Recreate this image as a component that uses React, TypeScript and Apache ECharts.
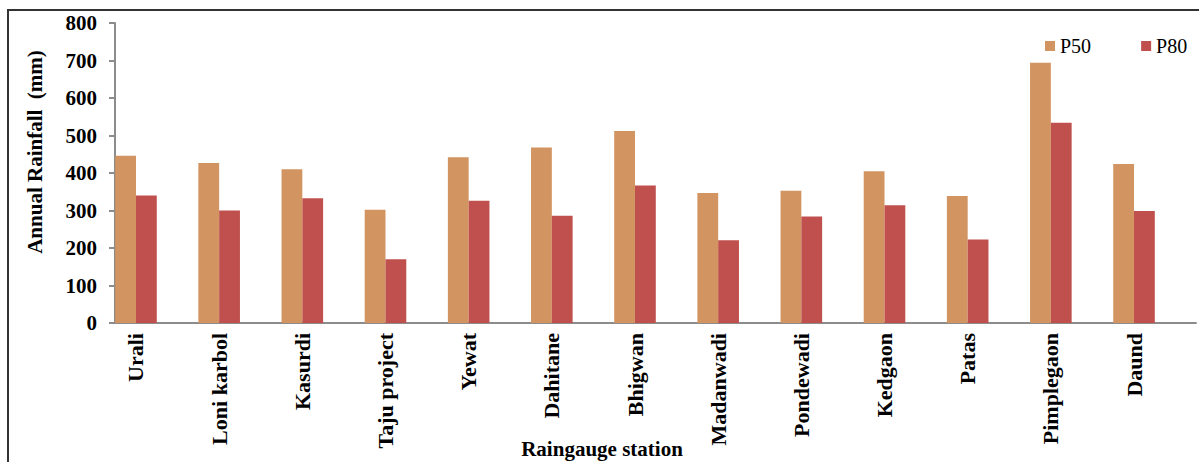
import React, { useEffect, useRef } from "react";
import * as echarts from "echarts";

// Raingauge stations and their dependable annual rainfall (mm)
const stations: string[] = [
  "Urali",
  "Loni karbol",
  "Kasurdi",
  "Taju project",
  "Yewat",
  "Dahitane",
  "Bhigwan",
  "Madanwadi",
  "Pondewadi",
  "Kedgaon",
  "Patas",
  "Pimplegaon",
  "Daund",
];

const p50: number[] = [446, 427, 410, 302, 442, 468, 512, 347, 353, 405, 339, 694, 424];
const p80: number[] = [340, 300, 333, 170, 326, 286, 367, 221, 284, 314, 223, 534, 299];

const yTicks: number[] = [0, 100, 200, 300, 400, 500, 600, 700, 800];

const SERIF = "Liberation Serif";
const AXIS_GRAY = "#8c8c8c";

export default function App() {
  const ref = useRef<HTMLDivElement>(null);

  useEffect(() => {
    document.body.style.margin = "0";
    if (!ref.current) return;
    const chart = echarts.init(ref.current, undefined, { renderer: "svg" });

    const yMin = yTicks[0];
    const yMax = yTicks[yTicks.length - 1];
    const yStep = yTicks[1] - yTicks[0];

    chart.setOption({
      animation: false,
      backgroundColor: "#ffffff",
      textStyle: { fontFamily: SERIF },
      grid: [
        // bars and station labels
        { left: 94.4, width: 1081.2, top: 23, height: 300, containLabel: false },
        // visible value axis and baseline
        { left: 115, width: 1081, top: 23, height: 300, containLabel: false },
      ],
      legend: {
        data: ["P50", "P80"],
        left: 1040,
        top: 31,
        icon: "rect",
        itemWidth: 10,
        itemHeight: 10,
        itemGap: 50,
        textStyle: { fontFamily: SERIF, fontSize: 20, color: "#000" },
      },
      xAxis: [
        {
          type: "category",
          gridIndex: 0,
          data: stations,
          boundaryGap: true,
          axisLine: { show: false },
          axisTick: { show: false },
          axisLabel: {
            rotate: 90,
            margin: 10,
            interval: 0,
            fontFamily: SERIF,
            fontWeight: "bold",
            fontSize: 22,
            color: "#000",
          },
        },
        {
          type: "value",
          gridIndex: 1,
          min: 0,
          max: 1,
          axisLine: { show: true, lineStyle: { color: AXIS_GRAY, width: 2 } },
          axisTick: { show: false },
          axisLabel: { show: false },
          splitLine: { show: false },
        },
      ],
      yAxis: [
        {
          type: "value",
          gridIndex: 0,
          min: yMin,
          max: yMax,
          show: false,
        },
        {
          type: "value",
          gridIndex: 1,
          min: yMin,
          max: yMax,
          interval: yStep,
          axisLine: { show: true, lineStyle: { color: AXIS_GRAY, width: 2 } },
          axisTick: { show: true, length: 6, lineStyle: { color: AXIS_GRAY, width: 2 } },
          axisLabel: {
            margin: 18,
            fontFamily: SERIF,
            fontWeight: "bold",
            fontSize: 21,
            color: "#000",
          },
          splitLine: { show: false },
        },
      ],
      series: [
        {
          name: "P50",
          type: "bar",
          xAxisIndex: 0,
          yAxisIndex: 0,
          data: p50,
          barGap: "0%",
          barCategoryGap: "50%",
          itemStyle: { color: "#d29461" },
        },
        {
          name: "P80",
          type: "bar",
          xAxisIndex: 0,
          yAxisIndex: 0,
          data: p80,
          barGap: "0%",
          barCategoryGap: "50%",
          itemStyle: { color: "#c0504d" },
        },
      ],
      graphic: [
        {
          type: "polyline",
          shape: { points: [[8, 470], [8, 10], [1205, 10]] },
          style: { stroke: "#333", lineWidth: 2, fill: "none" },
          silent: true,
        },
        {
          type: "text",
          x: 35,
          y: 152,
          rotation: Math.PI / 2,
          style: {
            text: "Annual Rainfall  (mm)",
            fontFamily: SERIF,
            fontWeight: "bold",
            fontSize: 21,
            fill: "#000",
            align: "center",
            verticalAlign: "middle",
          },
        },
        {
          type: "text",
          x: 602,
          y: 449,
          style: {
            text: "Raingauge station",
            fontFamily: SERIF,
            fontWeight: "bold",
            fontSize: 21,
            fill: "#000",
            align: "center",
            verticalAlign: "middle",
          },
        },
      ],
    });

    return () => chart.dispose();
  }, []);

  return <div ref={ref} style={{ width: 1199, height: 462 }} />;
}
